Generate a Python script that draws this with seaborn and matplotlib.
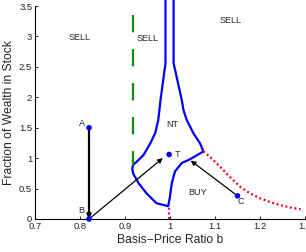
import numpy as np
import pandas as pd
import matplotlib
matplotlib.use("Agg")
import matplotlib.pyplot as plt
import seaborn as sns

# no-trade boundary (one closed-ish polyline)
boundary_b = [0.990, 0.990, 0.979, 0.974, 0.967, 0.956, 0.941, 0.926, 0.918, 0.916,
              0.918, 0.930, 0.948, 0.970, 0.996, 1.000, 1.004, 1.011, 1.026, 1.044,
              1.074, 1.067, 1.052, 1.037, 1.030, 1.026, 1.008, 1.008]
boundary_w = [3.60, 2.56, 1.96, 1.63, 1.41, 1.24, 1.05, 0.94, 0.89, 0.83,
              0.75, 0.59, 0.42, 0.26, 0.21, 0.37, 0.59, 0.78, 0.92, 0.98,
              1.11, 1.24, 1.41, 1.63, 1.79, 1.96, 2.56, 3.60]

red_b = [1.074, 1.089, 1.111, 1.133, 1.156, 1.178, 1.200, 1.222, 1.244, 1.267, 1.290]
red_w = [1.11, 1.02, 0.86, 0.69, 0.53, 0.42, 0.34, 0.28, 0.23, 0.19, 0.16]

green_b = [0.917, 0.917]
green_w = [3.35, 0.89]

magenta_b = [0.998, 0.998]
magenta_w = [0.0, 0.21]

point_names = ["A", "B", "T", "C"]
point_b = [0.82, 0.82, 0.998, 1.150]
point_w = [1.5, 0.0, 1.06, 0.38]

region_labels = ["SELL", "SELL", "SELL", "NT", "BUY"]
region_b = [0.80, 0.951, 1.135, 1.004, 1.062]
region_w = [2.99, 2.97, 3.26, 1.56, 0.43]

sns.set_style("ticks")
plt.rcParams["font.family"] = ["Liberation Sans", "DejaVu Sans"]
plt.rcParams["lines.scale_dashes"] = False

fig = plt.figure(figsize=(3.06, 2.52), dpi=100)
ax = fig.add_axes([35 / 306, 1 - 219 / 252, 270 / 306, 213 / 252])

sns.lineplot(x=boundary_b, y=boundary_w, sort=False, estimator=None, color="#0000ff",
             lw=1.6, clip_on=False, ax=ax)
sns.lineplot(x=red_b, y=red_w, sort=False, estimator=None, color="#ff0000",
             lw=1.6, linestyle=(0, (1.4, 1.9)), ax=ax)
sns.lineplot(x=green_b, y=green_w, sort=False, estimator=None, color="#108c10",
             lw=1.6, linestyle=(0, (12.5, 12)), ax=ax)
sns.lineplot(x=magenta_b, y=magenta_w, sort=False, estimator=None, color="#c000c0",
             lw=1.6, linestyle=(0, (1.4, 1.9)), ax=ax)

# arrows
ax.annotate("", xy=(0.82, 0.0), xytext=(0.82, 1.5),
            arrowprops=dict(arrowstyle="-|>", color="black", lw=1.6, mutation_scale=6,
                            shrinkA=0, shrinkB=0))
ax.annotate("", xy=(0.984, 1.0), xytext=(0.82, 0.0),
            arrowprops=dict(arrowstyle="-|>", color="black", lw=0.9, mutation_scale=7,
                            shrinkA=0, shrinkB=0))
ax.annotate("", xy=(1.046, 0.96), xytext=(1.150, 0.38),
            arrowprops=dict(arrowstyle="-|>", color="black", lw=0.9, mutation_scale=7,
                            shrinkA=0, shrinkB=0))

pts = pd.DataFrame({"b": point_b, "w": point_w, "name": point_names})
sns.scatterplot(data=pts, x="b", y="w", color="#0000ff", s=16, edgecolor="none",
                zorder=5, clip_on=False, ax=ax)

ax.text(0.812, 1.5, "A", ha="right", va="bottom", fontsize=6.5)
ax.text(0.803, 0.07, "B", ha="center", va="bottom", fontsize=6.5)
ax.text(1.010, 1.06, "T", ha="left", va="center", fontsize=6.5)
ax.text(1.158, 0.28, "C", ha="center", va="center", fontsize=6.5)

for lab, b, w in zip(region_labels, region_b, region_w):
    ax.text(b, w, lab, ha="center", va="center", fontsize=6.5)

ax.set_xlim(0.7, 1.3)
ax.set_ylim(0, 3.5)
ax.set_xticks([0.7, 0.8, 0.9, 1.0, 1.1, 1.2, 1.3])
ax.set_xticklabels(["0.7", "0.8", "0.9", "1", "1.1", "1.2", "1.3"])
ax.set_yticks([0, 0.5, 1, 1.5, 2, 2.5, 3, 3.5])
ax.set_yticklabels(["0", "0.5", "1", "1.5", "2", "2.5", "3", "3.5"])
ax.tick_params(direction="in", length=2.5, width=0.6, labelsize=6.8, pad=2,
               colors="black", labelcolor="#222222")
sns.despine(ax=ax)
for sp in ["left", "bottom"]:
    ax.spines[sp].set_linewidth(0.8)
    ax.spines[sp].set_color("black")

ax.set_xlabel("Basis\u2212Price Ratio b", fontsize=8.7, labelpad=2)
ax.set_ylabel("Fraction of Wealth in Stock", fontsize=8.7, labelpad=3)

fig.savefig("out.png", dpi=100)
